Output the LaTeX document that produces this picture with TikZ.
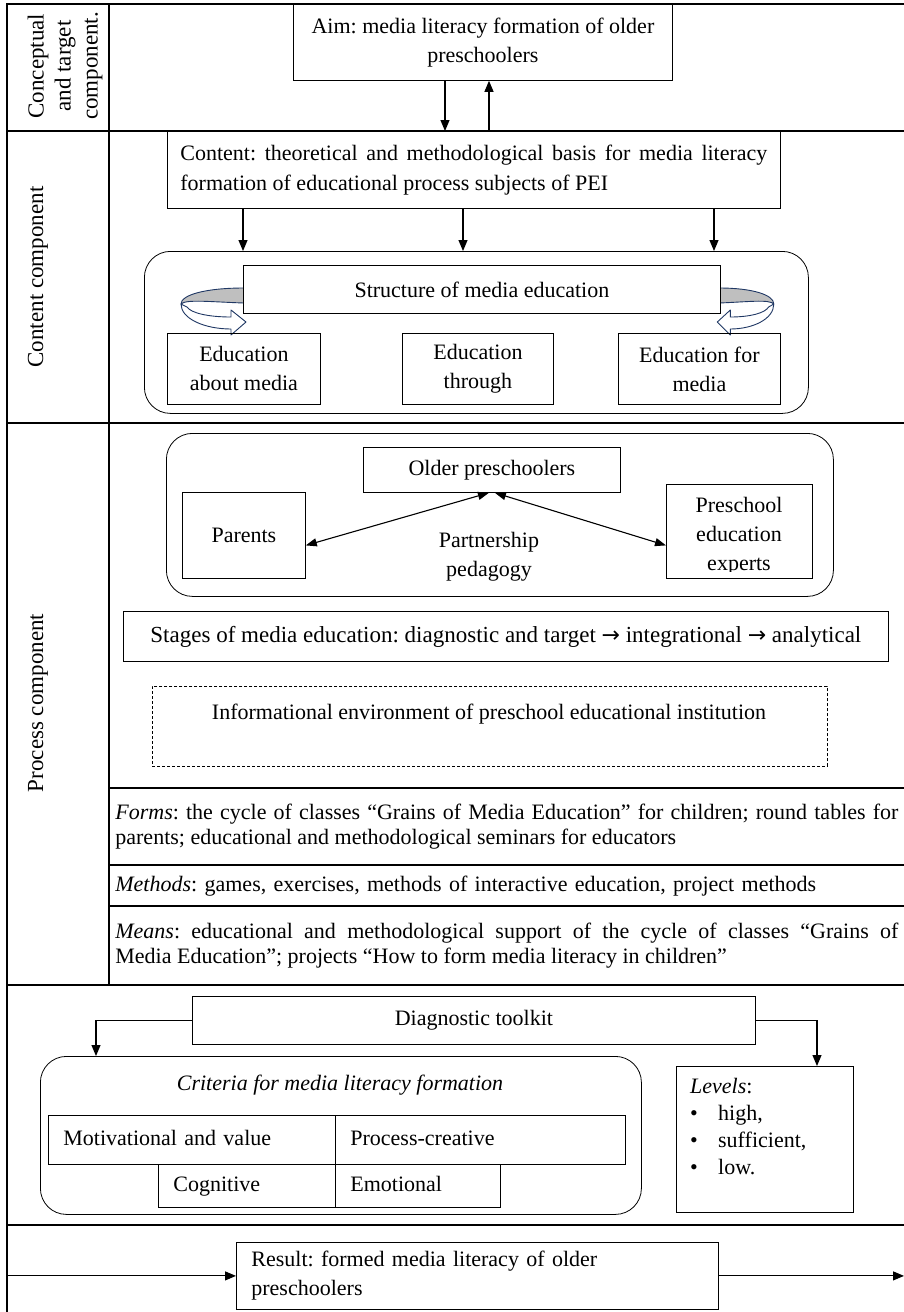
\documentclass[tikz,border=0pt]{standalone}
\usepackage{fontspec}
\setmainfont{Liberation Serif}
\newfontfamily\arrowfont{DejaVu Sans}
\usetikzlibrary{arrows.meta}
\definecolor{navy}{HTML}{203864}
\definecolor{ribgray}{HTML}{BFBFBF}
\newcommand{\mybox}[7][]{\node[box, minimum width={#5pt-#3pt}, minimum height={#6pt-#4pt}, #1] (#2) at (#3,#4) {#7};}
\newcommand{\rarr}{{\arrowfont\fontsize{22}{29}\selectfont →}}
\begin{document}
\frenchspacing
\begin{tikzpicture}[x=1pt,y=-1pt, font=\fontsize{22}{29}\selectfont,
  box/.style={draw, line width=0.8pt, inner sep=0pt, anchor=north west, align=center},
  rbox/.style={draw, line width=0.8pt, rounded corners=26pt, inner sep=0pt, anchor=north west},
  sec/.style={line width=1.1pt},
  arr/.style={line width=1.1pt, -{Triangle[length=11pt,width=9pt]}},
  darr/.style={line width=1.1pt, {Triangle[length=11pt,width=8pt]}-{Triangle[length=11pt,width=8pt]}},
  rib/.style={draw=navy, line width=0.9pt, line join=round},
  cell/.style={box, align=left, inner xsep=15pt},
  lab/.style={rotate=90, align=center, font=\fontsize{23}{27}\selectfont}
]
\useasboundingbox (0,0) rectangle (904,1312);

% ---------- frame ----------
\coordinate (tl) at (7,4);
\coordinate (tr) at (904,4);
\coordinate (bl) at (7,1312);
\coordinate (cd) at (109,0);
\draw[sec] (tr) -- (tl) -- (bl);
\draw[sec] (cd |- tl) -- (109,985);
\draw[sec] (7,131) -- (904,131);
\draw[sec] (7,423) -- (904,423);
\draw[sec] (109,788) -- (904,788);
\draw[sec] (109,865) -- (904,865);
\draw[sec] (109,906) -- (904,906);
\draw[sec] (7,985) -- (904,985);
\draw[sec] (7,1225) -- (904,1225);

% ---------- side labels ----------
\node[lab] (labA) at (65,66) {Conceptual\\and target\\component.};
\node[lab] (labB) at (38,277) {Content component};
\node[lab] (labC) at (38,703) {Process component};

% ---------- conceptual ----------
\mybox{aim}{293}{4}{672}{80}{Aim: media literacy formation of older\\preschoolers}
\mybox[text width=587pt, align=justify, font=\fontsize{22}{30}\selectfont]{content}{167}{131}{780}{208}{Content: theoretical and methodological basis for media literacy\linebreak formation of educational process subjects of PEI}
\coordinate (xa) at (445,0);
\coordinate (xb) at (489,0);
\draw[arr] (aim.south -| xa) -- (content.north -| xa);
\draw[arr] (content.north -| xb) -- (aim.south -| xb);

% ---------- content ----------
\node[rbox, minimum width=664pt, minimum height=162pt] (crbox) at (144,251) {};
\coordinate (c1) at (243,0);
\coordinate (c2) at (463,0);
\coordinate (c3) at (714,0);
\draw[arr] (content.south -| c1) -- (crbox.north -| c1);
\draw[arr] (content.south -| c2) -- (crbox.north -| c2);
\draw[arr] (content.south -| c3) -- (crbox.north -| c3);

% ribbons
\filldraw[rib, fill=ribgray] (244,288) .. controls (205,288) and (181,295) .. (181,304) .. controls (186,299) and (212,302) .. (244,303) -- cycle;
\filldraw[rib, fill=white] (181,304) .. controls (181,319) and (205,329) .. (231,329) -- (231,335) -- (246,322) -- (231,310) -- (231,317) .. controls (208,317) and (191,313) .. (187,307) -- cycle;
\filldraw[rib, fill=ribgray] (719,288) .. controls (752.9,288) and (773.8,295) .. (773.8,304) .. controls (769.5,299) and (746.8,302) .. (719,303) -- cycle;
\filldraw[rib, fill=white] (773.8,304) .. controls (773.8,319) and (752.9,329) .. (730.3,329) -- (730.3,335) -- (717.3,322) -- (730.3,310) -- (730.3,317) .. controls (750.3,317) and (765.1,313) .. (768.6,307) -- cycle;

\mybox[fill=white]{struct}{243}{265}{720}{313}{Structure of media education}
\mybox{eabout}{167}{333}{320}{404}{Education\\about media}
\mybox{ethrough}{402}{333}{553}{404}{Education\\through\vphantom{p}}
\mybox{efor}{618}{333}{780}{404}{Education for\\media}

% ---------- process ----------
\node[rbox, minimum width=667pt, minimum height=163pt] (prbox) at (166,433) {};
\mybox{older}{363}{447}{620}{492}{Older preschoolers}
\mybox{parents}{182}{492}{305}{578}{Parents}
\mybox{experts}{666}{484}{812}{578}{}
\node[align=center] (exptext) at (739,536) {Preschool\\education\\experts};
\fill[white] (667,572) rectangle (811,577);
\node[align=center] (pp) at (489,557) {Partnership\\pedagogy};
\draw[darr] ([yshift=-10pt]parents.east) -- ([xshift=-3pt]older.south);
\draw[darr] ([xshift=3pt]older.south) -- ([yshift=-14pt]experts.west);

\mybox[font=\fontsize{23}{29}\selectfont]{stages}{123}{611}{888}{661}{Stages of media education: diagnostic and target \rarr{} integrational \rarr{} analytical}
\mybox[dashed, dash pattern=on 3pt off 2pt]{env}{152}{686}{827}{766}{}
\node (envtext) at (489,714) {Informational environment of preschool educational institution};

\mybox[draw=none, text width=783pt, align=justify, font=\fontsize{22}{25}\selectfont]{forms}{109}{788}{904}{865}{\textit{Forms}: the cycle of classes “Grains of Media Education” for children; round tables for\linebreak parents; educational and methodological seminars for educators}
\mybox[draw=none, text width=783pt, align=left]{methods}{109}{865}{904}{906}{\textit{Methods}: games, exercises, methods of interactive education, project methods}
\mybox[draw=none, text width=783pt, align=justify, font=\fontsize{22}{25}\selectfont]{means}{109}{906}{904}{985}{\textit{Means}: educational and methodological support of the cycle of classes “Grains of\linebreak Media Education”; projects “How to form media literacy in children”}

% ---------- diagnostic ----------
\mybox{diag}{192}{996}{755}{1044}{Diagnostic toolkit}
\node[rbox, minimum width=601pt, minimum height=158pt] (crit) at (40,1056) {};
\node (crittitle) at (340,1085) {\textit{Criteria for media literacy formation}};
\mybox[cell, text width=257pt]{mv}{48}{1115}{335}{1164}{\strut Motivational and value}
\mybox[cell, text width=260pt]{pc}{335}{1115}{625}{1164}{\strut Process-creative}
\mybox[cell, text width=147pt]{cog}{158}{1164}{335}{1207}{\strut Cognitive}
\mybox[cell, text width=135pt]{emo}{335}{1164}{500}{1207}{\strut Emotional}
\mybox{levels}{676}{1066}{853}{1212}{}
\node[anchor=north west, align=left, inner sep=0pt, font=\fontsize{22}{27}\selectfont] (levtext) at (690,1078) {\textit{Levels}:\\\makebox[28pt][l]{\textbullet}high,\\\makebox[28pt][l]{\textbullet}sufficient,\\\makebox[28pt][l]{\textbullet}low.};
\coordinate (xl) at (96,0);
\coordinate (xr) at (817,0);
\draw[arr] (diag.west) -| (crit.north -| xl);
\draw[arr] (diag.east) -| (levels.north -| xr);

% ---------- result ----------
\mybox[cell, text width=452pt]{result}{236}{1242}{718}{1309}{Result: formed media literacy of older\\preschoolers}
\coordinate (rr) at (904,0);
\draw[arr] (bl |- result.west) -- (result.west);
\draw[arr] (result.east) -- (result.east -| rr);
\end{tikzpicture}
\end{document}
